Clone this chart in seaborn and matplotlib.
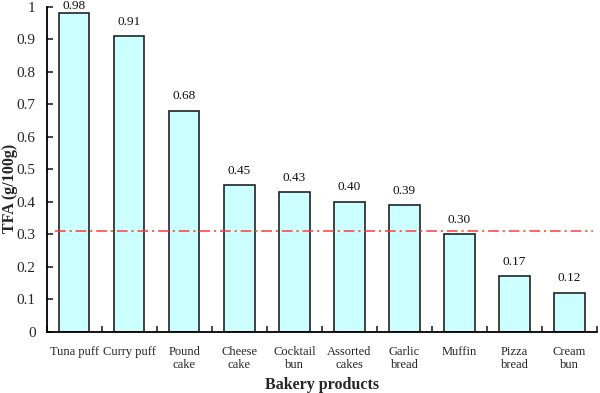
import numpy as np
import pandas as pd
import matplotlib
matplotlib.use("Agg")
import matplotlib.pyplot as plt
import seaborn as sns

# Datos
productos = ["Tuna puff", "Curry puff", "Pound\ncake", "Cheese\ncake", "Cocktail\nbun",
             "Assorted\ncakes", "Garlic\nbread", "Muffin", "Pizza\nbread", "Cream\nbun"]
tfa = [0.98, 0.91, 0.68, 0.45, 0.43, 0.40, 0.39, 0.30, 0.17, 0.12]
limite = 0.31

df = pd.DataFrame({"producto": productos, "tfa": tfa})

sns.set_theme(style="ticks")
plt.rcParams["font.family"] = ["Liberation Serif", "DejaVu Serif"]

fig = plt.figure(figsize=(6, 3.93), dpi=100)
ax = fig.add_axes([0.078, 0.156, 0.917, 0.827])

sns.barplot(data=df, x="producto", y="tfa", color="#CCFFFF", edgecolor="#222222",
            linewidth=1.2, width=0.55, saturation=1, ax=ax)
etiquetas = ax.bar_label(ax.containers[0], fmt="%.2f", padding=6, fontsize=9.5, color="#111111")
# la etiqueta de la barra mas alta queda pegada al borde
for v, t in zip(tfa, etiquetas):
    if v > 0.95:
        t.xyann = (0, 1)

# Linea de referencia
ax.axhline(limite, xmin=0.015, xmax=0.993, color="#FF3B3B",
           linestyle=(0, (7, 2.5, 1.5, 2.5)), linewidth=1.1)

ax.set_xlim(-0.5, 9.5)
ax.set_ylim(0, 1)
ax.set_yticks(np.arange(0, 1.01, 0.1))
ax.set_yticklabels(["0", "0.1", "0.2", "0.3", "0.4", "0.5", "0.6", "0.7", "0.8", "0.9", "1"])
ax.set_xticks(np.arange(-0.5, 10, 1), minor=True)
ax.tick_params(axis="x", which="major", length=0, pad=10, labelsize=9)
ax.tick_params(axis="x", which="minor", direction="in", length=4, width=1.2)
ax.tick_params(axis="y", direction="in", length=4, width=1.2, labelsize=11, pad=8)

for s in ["top", "right"]:
    ax.spines[s].set_visible(False)
for s in ["left", "bottom"]:
    ax.spines[s].set_linewidth(1.3)
    ax.spines[s].set_color("black")

ax.set_xlabel("Bakery products", fontsize=11.5, fontweight="bold", labelpad=4)
ax.set_ylabel("TFA (g/100g)", fontsize=11.5, fontweight="bold")
ax.yaxis.set_label_coords(-0.052, 0.44)

fig.savefig("out.png", dpi=100)
